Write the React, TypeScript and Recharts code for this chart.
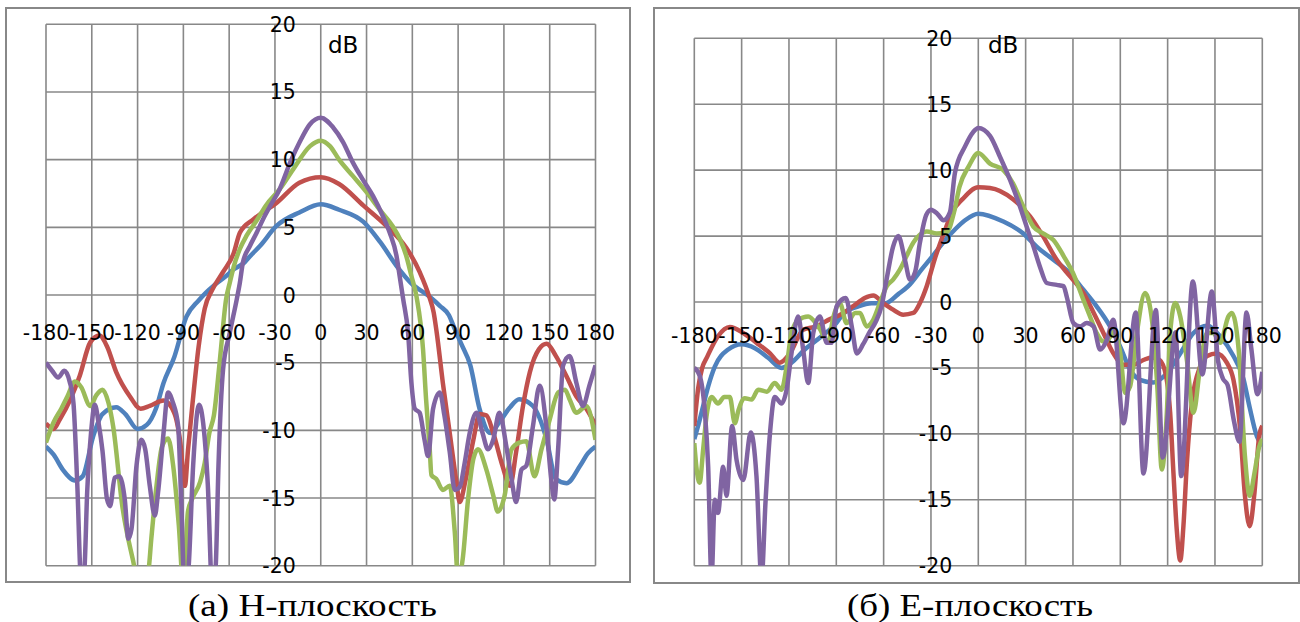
import { CartesianGrid, Line, LineChart, XAxis, YAxis } from 'recharts';

// Radiation patterns, H-plane (a) and E-plane (б). Angles in degrees, gain in dB.
const degTicks = [-180, -150, -120, -90, -60, -30, 0, 30, 60, 90, 120, 150, 180];
const dbTicks = [-20, -15, -10, -5, 0, 5, 10, 15, 20];

// ---- H-plane ----
const hBlueDeg = [-180, -175, -169, -161, -156, -149, -143, -134, -128, -120, -114, -108, -103, -96, -88, -80, -75, -70, -62, -57, -50, -46, -40, -29, -14, 0, 12, 28, 39, 50, 59, 71, 78, 84, 87, 92, 98, 104, 111, 117, 124, 130, 139, 148, 154, 161, 170, 175, 180];
const hBlueDb = [-11.2, -11.8, -12.9, -13.7, -13.4, -10.4, -8.8, -8.3, -8.8, -9.9, -9.6, -8.4, -6.5, -4.6, -1.6, -0.4, 0.2, 0.7, 1.4, 1.9, 2.4, 2.9, 3.6, 5.1, 6.1, 6.7, 6.3, 5.4, 3.9, 2.1, 0.9, -0.1, -0.8, -1.5, -2.3, -3.6, -5.2, -8.4, -10.2, -9.4, -8.3, -7.7, -8.2, -10.7, -13.6, -13.9, -12.6, -11.7, -11.2];

const hRedDeg = [-180, -175, -171, -164, -158, -151, -145, -140, -134, -125, -118, -112, -103, -96, -92, -89, -87, -84, -80, -76, -71, -64, -57, -53, -44, -29, -14, 0, 12, 28, 43, 56, 65, 71, 74, 76, 80, 84.5, 89, 91, 95, 100, 104, 108.5, 113, 119, 124, 128, 132.5, 137, 143, 148, 154, 161, 167.5, 174, 180];
const hRedDb = [-9.5, -9.9, -9.2, -7.7, -6.0, -3.5, -3.0, -3.8, -5.7, -7.5, -8.4, -8.2, -7.8, -8.7, -10.9, -14.1, -11.5, -8.0, -3.8, -1.0, 0.4, 1.7, 3.1, 4.6, 5.6, 6.8, 8.3, 8.7, 8.2, 6.6, 5.1, 3.5, 1.65, -0.1, -1.3, -2.8, -6.5, -10.2, -13.9, -15.3, -13.6, -10.7, -8.8, -8.9, -10.2, -12.6, -14.1, -11.6, -8.2, -5.7, -4.0, -3.6, -4.5, -6.0, -7.5, -8.4, -9.6];

const hGreenDeg = [-180, -175, -170, -166, -161, -157, -151, -147, -143, -139, -136, -130, -123, -118, -113, -111, -107.6, -104, -100, -96.7, -93, -90, -87, -84, -79, -76, -73, -70, -66, -62, -59.6, -57, -53, -48.5, -42, -36, -27, -18, -7, 0, 6, 12, 21, 30, 38.6, 47, 52, 56, 59.4, 62.7, 67, 69, 71.4, 72.5, 75.7, 80, 84.5, 87.8, 90, 93, 96.5, 100, 103, 108.5, 113, 116, 120.5, 125, 130, 134.7, 140, 144.6, 150, 155.5, 160, 163, 167.5, 174, 180];
const hGreenDb = [-10.9, -9.4, -8.4, -7.5, -6.4, -6.8, -8.2, -7.4, -7.0, -8.0, -9.7, -15.6, -19.6, -22, -20.5, -18, -14.1, -11.2, -10.6, -12.6, -17, -21.5, -16, -15.0, -13.8, -12.4, -10.2, -8.9, -4.7, -0.3, 0.9, 2.1, 3.4, 4.4, 5.5, 6.6, 7.8, 9.3, 11.0, 11.4, 11.0, 10.0, 8.8, 7.6, 6.3, 5.1, 4.1, 2.9, 1.4, -0.1, -4.0, -7.7, -11.4, -13.3, -13.6, -14.4, -14.1, -17.5, -21, -19.5, -15.1, -12.1, -11.4, -12.9, -14.8, -16.0, -14.8, -11.4, -10.9, -10.8, -13.4, -11.4, -9.2, -7.2, -7.0, -7.7, -8.7, -8.2, -10.7];

const hPurpleDeg = [-180, -176, -172, -168, -164.5, -162, -159.5, -157, -155, -153, -150.5, -148, -145.5, -143, -140, -138, -135, -132, -128.4, -126, -124, -120.7, -117.5, -115, -112, -108.7, -106.6, -103, -100, -97, -93.4, -91.5, -89, -86.5, -83.6, -79.7, -77, -74, -71, -68.8, -67, -64, -59.6, -55, -53, -51, -46.5, -42, -37.8, -33, -27, -20, -13.8, -7.2, 0, 8, 14.6, 21, 27.7, 34.3, 40.8, 45.2, 49.6, 51.7, 54, 57.2, 59.4, 61.6, 64.8, 68, 70.3, 73.6, 78, 81, 84.5, 87.8, 91, 94.3, 97.6, 102, 106, 109.6, 113, 117, 121.6, 125, 128, 131.5, 134.7, 139, 143.4, 147.8, 151, 153, 155.5, 158.8, 163, 167.5, 171.8, 176, 180];
const hPurpleDb = [-5.0, -5.6, -6.1, -5.6, -6.4, -8.0, -14, -21, -20.5, -14.5, -10.2, -8.1, -9.5, -11.5, -15.1, -15.6, -13.5, -13.4, -15.1, -18.0, -17.3, -12.6, -10.7, -11.4, -14.1, -16.3, -14.6, -10.2, -7.2, -7.9, -9.7, -15, -22, -20, -12.6, -8.1, -9.5, -14, -22, -20, -12.6, -5.5, -2.8, -0.3, 0.9, 2.4, 3.6, 4.6, 5.6, 6.6, 7.8, 9.8, 11.3, 12.6, 13.1, 12.4, 11.3, 9.8, 8.5, 7.3, 5.8, 4.6, 2.9, 1.4, -0.3, -2.8, -6.5, -8.4, -8.7, -10.7, -11.9, -8.4, -7.2, -8.9, -11.6, -14.4, -14.2, -12.4, -10.2, -8.7, -10.2, -11.4, -10.7, -8.7, -11.2, -13.6, -15.3, -12.9, -12.6, -9.7, -6.7, -9.7, -13.6, -15.1, -11.4, -5.2, -4.5, -6.5, -8.2, -6.7, -5.2];

// ---- E-plane ----
const eBlueDeg = [-180, -177.6, -174.4, -171.2, -167, -158.5, -150, -141.6, -133, -124.7, -118.4, -110, -99.3, -90, -85.6, -76, -67.6, -59, -50.7, -44.4, -36, -27.5, -21, -14.8, -8.4, 0, 15.9, 28.5, 37, 47.6, 58, 66.6, 75, 83.5, 90, 96, 102.4, 111, 119.5, 128, 136.4, 145, 153.3, 161.7, 168, 172, 176.6, 180];
const eBlueDb = [-10.4, -9.4, -7.9, -6.4, -4.9, -3.6, -3.2, -3.5, -4.25, -5.0, -4.6, -3.6, -2.6, -1.6, -0.9, -0.33, -0.1, -0.1, 0.6, 1.2, 2.45, 3.7, 4.7, 5.5, 6.2, 6.7, 6.1, 5.2, 4.2, 3.2, 2.2, 0.93, -0.33, -1.85, -3.4, -5.1, -5.9, -6.1, -5.4, -3.9, -2.35, -1.8, -2.6, -4.1, -5.8, -8.0, -10.2, -10.9];

const eRedDeg = [-180, -177.5, -175, -172, -165, -157.5, -149, -140.5, -132, -125.8, -119.4, -111, -102.5, -94, -88, -79, -72, -66.6, -60, -54, -47.6, -41.2, -37, -32.7, -27.5, -20, -16.9, -10, 0, 7.4, 22, 32.8, 41, 49.7, 58.2, 66.6, 73, 79.3, 85.6, 92, 98.3, 104.6, 110, 115, 119, 121.6, 123.7, 125.8, 128, 130, 132.2, 135.3, 140.6, 145, 151, 157.5, 161.7, 166, 169, 172, 175, 178, 180];
const eRedDb = [-9.4, -6.5, -5.0, -4.2, -2.6, -1.9, -2.35, -3.1, -3.9, -4.6, -3.9, -2.1, -1.85, -1.3, -1.0, -0.3, 0.3, 0.5, -0.1, -0.58, -0.96, -0.83, -0.08, 1.2, 3.3, 5.8, 6.75, 7.8, 8.7, 8.65, 7.8, 6.5, 5.0, 3.2, 1.94, 0.68, -0.8, -2.35, -3.9, -4.76, -4.76, -4.4, -4.2, -4.4, -5.6, -8.4, -13, -17.3, -19.6, -17.0, -12.2, -7.7, -4.9, -4.1, -3.9, -4.6, -5.9, -9.7, -14.7, -17.0, -14.5, -10.2, -9.4];

const eGreenDeg = [-180, -178.7, -176.6, -174.4, -172.3, -169, -165, -161, -157.5, -154.3, -152, -148, -143.7, -139.5, -134, -129, -124.7, -121.5, -118.4, -114, -107.8, -101.5, -95, -92, -87.7, -83.5, -78, -75, -70.8, -66.6, -62.4, -58, -54, -49.7, -45.4, -41.2, -37, -32.7, -26.4, -20, -15, -12, -6, 0, 7.4, 15.9, 22, 28.5, 35, 41, 47.6, 54, 60, 66.6, 70.8, 75, 79.3, 82, 85.6, 90, 93, 96.2, 100.5, 105.7, 111, 113.5, 116.3, 119.5, 121.6, 124.8, 128, 132.2, 136.4, 140.6, 145, 149, 153.3, 158.5, 160.7, 165, 169, 172, 175, 178, 180];
const eGreenDb = [-10.7, -12.5, -13.7, -11.2, -8.7, -7.2, -7.7, -7.2, -7.2, -9.2, -8.2, -7.3, -7.4, -6.65, -6.8, -6.15, -6.65, -4.9, -2.35, -1.35, -1.1, -1.85, -3.0, -1.2, -0.1, -1.6, -0.83, -0.83, -1.85, -1.35, -0.08, 1.2, 1.7, 2.45, 3.5, 4.5, 5.1, 5.35, 5.2, 5.3, 7.0, 8.7, 10.3, 11.3, 10.5, 10.0, 9.0, 7.25, 5.7, 5.2, 4.7, 3.5, 2.2, 0.17, -1.1, -2.35, -3.0, -2.9, -2.3, -3.9, -6.9, -6.4, -2.35, 0.68, -2.35, -6.5, -12.7, -8.4, -2.35, -0.08, -1.1, -4.4, -8.4, -4.9, -2.35, -2.35, -3.1, -1.1, -0.83, -3.6, -11.7, -14.7, -13, -11, -10.4];

const ePurpleDeg = [-180, -176.6, -173.4, -171.2, -169.1, -167, -165, -161.7, -159.6, -156, -153.2, -149, -144.2, -140.6, -137.4, -134.8, -132, -129, -124.7, -121.5, -118.4, -114.2, -111, -107.8, -104.6, -100.4, -96, -93, -89.8, -84, -80, -77, -73, -69, -65, -61.3, -58, -54, -50.7, -46.5, -43.3, -40, -37, -33, -30, -26, -22, -18, -14.8, -8.4, -3.2, 0, 7.4, 13.8, 20, 26.4, 30.7, 35, 39, 43.4, 49.7, 54, 56, 60.3, 64.5, 68.7, 73, 77.2, 81.4, 85.6, 92, 99.8, 104.7, 112.5, 116.9, 125, 128.6, 136, 142, 148, 152, 155, 158, 162, 165.5, 170, 173, 177, 180];
const ePurpleDb = [-5.0, -5.6, -8.2, -12.5, -21, -15, -16.0, -12.5, -14.7, -9.4, -12, -13.5, -9.9, -13.2, -21, -15, -9.9, -7.2, -7.7, -6.65, -3.9, -1.1, -3.6, -6.15, -2.35, -1.1, -3.1, -3.1, -0.33, 0.3, -2.0, -3.9, -3.2, -2.3, -1.5, -0.3, 1.8, 4.2, 5.0, 3.2, 1.7, 2.3, 4.5, 6.6, 7.0, 6.7, 6.2, 6.8, 9.8, 11.8, 12.9, 13.2, 12.6, 11.0, 9.3, 7.25, 5.7, 4.2, 2.7, 1.44, 1.3, 1.2, 0.43, -1.6, -1.85, -1.6, -1.85, -3.6, -2.9, -1.35, -9.2, -0.8, -13, -0.6, -11.8, -2.3, -13.2, 1.56, -5.5, 0.8, -4.5, -5.8, -6.3, -9, -10.6, -0.8, -3.5, -7, -5.3];

const BLUE = '#4f81bd';
const RED = '#c0504d';
const GREEN = '#9bbb59';
const PURPLE = '#8064a2';
const GRID = '#888888';
const TICK_FONT = '"DejaVu Sans", sans-serif';
const CAPTION_FONT = '"Liberation Serif", serif';

type Pt = { deg: number; db: number };
const zip = (deg: number[], db: number[]): Pt[] => deg.map((d, i) => ({ deg: d, db: db[i] }));

interface Series {
  key: string;
  color: string;
  points: Pt[];
}

interface PanelProps {
  box: { x: number; y: number; w: number; h: number };
  plot: { left: number; top: number; right: number; bottom: number };
  xLabelY: number; // page baseline of the degree labels
  yLabelGap: number; // gap between dB labels and the 0° line
  series: Series[];
}

function PatternChart({ box, plot, xLabelY, yLabelGap, series }: PanelProps) {
  // axes are 1px wide/high, so take that off the margins
  const margin = {
    left: plot.left - box.x - 1,
    top: plot.top - box.y,
    right: box.x + box.w - plot.right,
    bottom: box.y + box.h - plot.bottom - 1,
  };
  const zeroX = (plot.left + plot.right) / 2 - box.x;
  const labelY = xLabelY - box.y;

  const xTick = (props: any) => (
    <text
      x={props.x}
      y={labelY}
      textAnchor="middle"
      fontFamily={TICK_FONT}
      fontSize={20.5}
      fill="#000"
    >
      {props.payload.value}
    </text>
  );
  const yTick = (props: any) => (
    <text
      x={zeroX - yLabelGap}
      y={props.y + 7.5}
      textAnchor="end"
      fontFamily={TICK_FONT}
      fontSize={20.5}
      fill="#000"
    >
      {props.payload.value}
    </text>
  );

  return (
    <div style={{ position: 'absolute', left: box.x, top: box.y }}>
      <LineChart width={box.w} height={box.h} margin={margin}>
        <CartesianGrid stroke={GRID} strokeWidth={1.6} />
        <XAxis
          type="number"
          dataKey="deg"
          domain={[-180, 180]}
          ticks={degTicks}
          interval={0}
          height={1}
          axisLine={false}
          tickLine={false}
          tick={xTick}
          allowDataOverflow
        />
        <YAxis
          type="number"
          domain={[-20, 20]}
          ticks={dbTicks}
          interval={0}
          width={1}
          axisLine={false}
          tickLine={false}
          tick={yTick}
          allowDataOverflow
        />
        {series.map((s) => (
          <Line
            key={s.key}
            data={s.points}
            dataKey="db"
            type="monotone"
            stroke={s.color}
            strokeWidth={4.5}
            dot={false}
            activeDot={false}
            isAnimationActive={false}
          />
        ))}
      </LineChart>
    </div>
  );
}

const frame = (x: number, y: number, w: number, h: number) => (
  <div
    style={{
      position: 'absolute',
      left: x,
      top: y,
      width: w,
      height: h,
      boxSizing: 'border-box',
      border: `2.5px solid ${GRID}`,
    }}
  />
);

export default function App() {
  const hSeries: Series[] = [
    { key: 'hb', color: BLUE, points: zip(hBlueDeg, hBlueDb) },
    { key: 'hr', color: RED, points: zip(hRedDeg, hRedDb) },
    { key: 'hg', color: GREEN, points: zip(hGreenDeg, hGreenDb) },
    { key: 'hp', color: PURPLE, points: zip(hPurpleDeg, hPurpleDb) },
  ];
  const eSeries: Series[] = [
    { key: 'eb', color: BLUE, points: zip(eBlueDeg, eBlueDb) },
    { key: 'er', color: RED, points: zip(eRedDeg, eRedDb) },
    { key: 'eg', color: GREEN, points: zip(eGreenDeg, eGreenDb) },
    { key: 'ep', color: PURPLE, points: zip(ePurpleDeg, ePurpleDb) },
  ];

  return (
    <div style={{ position: 'absolute', left: 0, top: 0, width: 1300, height: 622, background: '#fff' }}>
      {frame(5, 7, 626, 576)}
      {frame(653, 7, 647, 577)}
      <PatternChart
        box={{ x: 5, y: 7, w: 626, h: 576 }}
        plot={{ left: 46, top: 24.3, right: 595.5, bottom: 565.7 }}
        xLabelY={340}
        yLabelGap={25}
        series={hSeries}
      />
      <PatternChart
        box={{ x: 653, y: 7, w: 647, h: 577 }}
        plot={{ left: 694.3, top: 38.3, right: 1262.3, bottom: 565.7 }}
        xLabelY={343}
        yLabelGap={26}
        series={eSeries}
      />
      <svg width={1300} height={622} style={{ position: 'absolute', left: 0, top: 0, pointerEvents: 'none' }}>
        <text x={328} y={53} fontFamily={TICK_FONT} fontSize={23} fill="#000">dB</text>
        <text x={988} y={53} fontFamily={TICK_FONT} fontSize={23} fill="#000">dB</text>
        <text
          x={188}
          y={616}
          fontFamily={CAPTION_FONT}
          fontSize={31}
          fill="#000"
          textLength={249}
          lengthAdjust="spacingAndGlyphs"
        >
          (а) H-плоскость
        </text>
        <text
          x={847}
          y={616}
          fontFamily={CAPTION_FONT}
          fontSize={31}
          fill="#000"
          textLength={246}
          lengthAdjust="spacingAndGlyphs"
        >
          (б) E-плоскость
        </text>
      </svg>
    </div>
  );
}
